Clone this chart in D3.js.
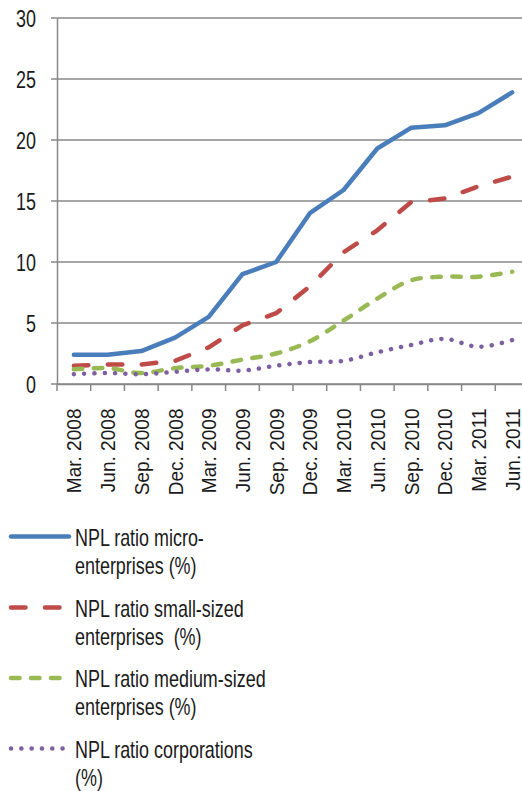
<!DOCTYPE html>
<html><head><meta charset="utf-8">
<script src="https://cdn.jsdelivr.net/npm/d3@7"></script>
<style>
html,body{margin:0;padding:0;background:#fff;}
svg{display:block;}
text{font-family:"Liberation Sans",Arial,sans-serif;fill:#1a1a1a;}
</style></head>
<body>
<svg id="chart" width="522" height="791"></svg>
<script>
const categories = ["Mar. 2008","Jun. 2008","Sep. 2008","Dec. 2008","Mar. 2009","Jun. 2009","Sep. 2009","Dec. 2009","Mar. 2010","Jun. 2010","Sep. 2010","Dec. 2010","Mar. 2011","Jun. 2011"];
const micro = [2.4,2.4,2.7,3.8,5.5,9.0,10.0,14.0,15.9,19.3,21.0,21.2,22.2,23.9];
const small = [1.5,1.6,1.6,1.9,3.0,4.8,5.8,8.0,10.8,12.6,14.9,15.2,16.2,17.0];
const medium = [1.2,1.3,0.9,1.3,1.5,2.0,2.5,3.5,5.2,7.0,8.5,8.8,8.8,9.2];
const corporations = [0.8,0.9,0.8,1.0,1.2,1.1,1.5,1.8,1.9,2.6,3.2,3.7,3.05,3.6];
const yTicks = [0,5,10,15,20,25,30];
const seriesNames = [["NPL ratio micro-","enterprises (%)"],["NPL ratio small-sized","enterprises  (%)"],["NPL ratio medium-sized","enterprises (%)"],["NPL ratio corporations","(%)"]];

const series = [
  {values: micro, color:"#4A7EBB", dash:null, curve:d3.curveLinear},
  {values: small, color:"#BE4B48", dash:"14.5,19.5", curve:d3.curveLinear},
  {values: medium, color:"#98B954", dash:"8.5,11.5", curve:d3.curveCatmullRom.alpha(0.5)},
  {values: corporations, color:"#7D60A0", dash:"0.1,10.2", curve:d3.curveCatmullRom.alpha(0.5)}
];

const svg = d3.select("#chart");
const fsBig = 23, narrow = 0.78, fsX = 20.5, narrowX = 0.93;
const x = d3.scaleBand().domain(categories).range([57, 529]);
const y = d3.scaleLinear().domain([0,30]).range([384, 18]);

// gridlines
svg.append("g").selectAll("line").data(yTicks).join("line")
  .attr("x1", 51).attr("x2", 522)
  .attr("y1", d=>y(d)).attr("y2", d=>y(d))
  .attr("stroke", "#888").attr("stroke-width", 1.5);

// y axis
const yAxis = d3.axisLeft(y).tickValues(yTicks).tickSize(0);
const gy = svg.append("g").attr("transform","translate(57,0)").call(yAxis);
gy.select(".domain").attr("stroke","#888").attr("stroke-width",1.5);
gy.selectAll(".tick text")
  .attr("font-size", fsBig).attr("font-family","Liberation Sans, Arial, sans-serif").attr("fill","#1a1a1a")
  .attr("x",0).attr("dy","0.36em")
  .attr("transform",`translate(-21,0) scale(${narrow},1)`);

// x axis
const xAxis = d3.axisBottom(x).tickSize(0);
const gx = svg.append("g").attr("transform","translate(0,384)").call(xAxis);
gx.select(".domain").attr("stroke","#888").attr("stroke-width",1.5);
gx.selectAll(".tick text")
  .attr("font-size", fsX).attr("font-family","Liberation Sans, Arial, sans-serif").attr("fill","#1a1a1a")
  .attr("text-anchor","end").attr("y",0).attr("dy",null)
  .attr("transform",`translate(7.5,24.5) rotate(-90) scale(${narrowX},1)`);
// band-boundary ticks
const bounds = categories.map(c=>x(c)).concat([x.range()[1]]);
gx.append("g").selectAll("line").data(bounds).join("line")
  .attr("x1", d=>d).attr("x2", d=>d).attr("y1",0).attr("y2",7)
  .attr("stroke","#888").attr("stroke-width",1.5);

// lines
const plot = svg.append("g");
series.forEach(s=>{
  const line = d3.line()
    .x((d,i)=>x(categories[i]) + x.bandwidth()/2)
    .y(d=>y(d)).curve(s.curve);
  plot.append("path").datum(s.values)
    .attr("d", line).attr("fill","none")
    .attr("stroke", s.color).attr("stroke-width",4.5)
    .attr("stroke-linecap","round").attr("stroke-linejoin","round")
    .attr("stroke-dasharray", s.dash);
});

// legend
const legY = [536.5, 607.5, 678, 748.5];
const leg = svg.append("g");
series.forEach((s,i)=>{
  leg.append("line").attr("x1",11).attr("x2",69).attr("y1",legY[i]).attr("y2",legY[i])
    .attr("stroke", s.color).attr("stroke-width",4.5)
    .attr("stroke-linecap","round").attr("stroke-dasharray", s.dash);
  const t = leg.append("text")
    .attr("transform",`translate(75,${legY[i]+9}) scale(${narrow},1)`)
    .attr("font-size",fsBig);
  seriesNames[i].forEach((ln,j)=>{
    t.append("tspan").attr("x",0).attr("dy", j===0?0:28.5).attr("xml:space","preserve").text(ln);
  });
});
</script>
</body></html>
